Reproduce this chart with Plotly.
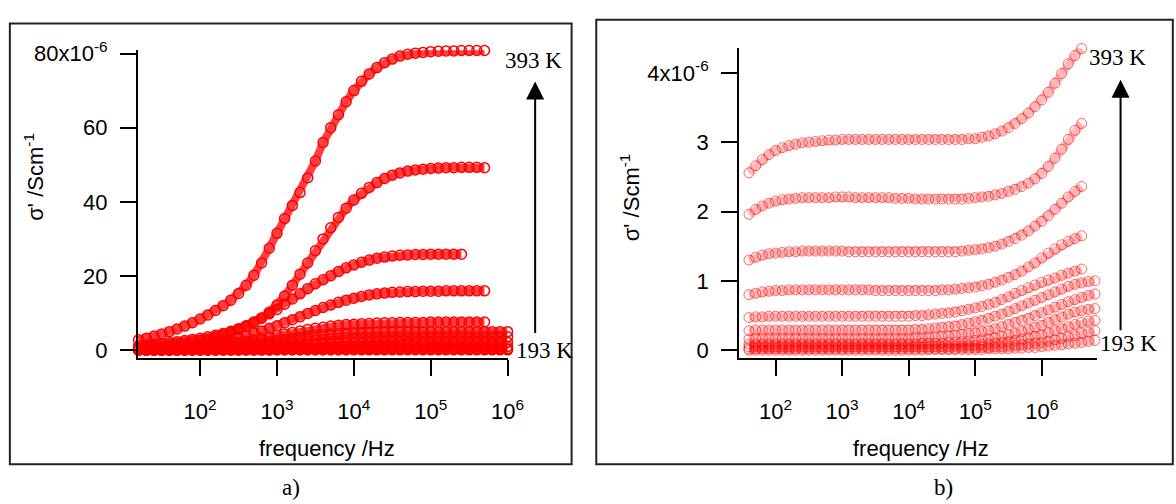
import plotly.graph_objects as go

# ---------------- data: panel a) (values in units of 1e-6 S/cm) ----------------
LOG_F_A = [1.2, 1.3, 1.4, 1.5, 1.6, 1.7, 1.8, 1.9, 2.0, 2.1,
           2.2, 2.3, 2.4, 2.5, 2.6, 2.7, 2.8, 2.9, 3.0, 3.1,
           3.2, 3.3, 3.4, 3.5, 3.6, 3.7, 3.8, 3.9, 4.0, 4.1,
           4.2, 4.3, 4.4, 4.5, 4.6, 4.7, 4.8, 4.9, 5.0, 5.1,
           5.2, 5.3, 5.4, 5.5, 5.6, 5.7, 5.8, 5.9, 6.0]

A_393 = [2.8, 3.2, 3.8, 4.4, 5.0, 5.7, 6.5, 7.4, 8.4, 9.5,
         10.7, 12.0, 13.5, 15.3, 17.5, 20.2, 23.5, 27.5, 31.5, 35.5,
         39.0, 42.5, 46.5, 51.0, 56.0, 60.0, 63.5, 67.0, 70.0, 72.5,
         74.5, 76.2, 77.5, 78.5, 79.3, 79.8, 80.1, 80.3, 80.5, 80.6,
         80.7, 80.7, 80.8, 80.8, 80.8, 80.8]
A_373 = [1.2, 1.4, 1.6, 1.8, 2.0, 2.3, 2.6, 2.9, 3.2, 3.6,
         4.0, 4.5, 5.1, 5.8, 6.6, 7.6, 8.7, 10.2, 12.2, 14.6,
         17.5, 20.5, 23.5, 26.8, 30.0, 33.0, 35.8, 38.3, 40.5, 42.3,
         43.9, 45.2, 46.3, 47.2, 47.8, 48.3, 48.6, 48.8, 49.0, 49.1,
         49.2, 49.2, 49.3, 49.3, 49.3, 49.2]
A_353 = [0.8, 0.9, 1.0, 1.2, 1.4, 1.6, 1.9, 2.2, 2.6, 3.0,
         3.5, 4.1, 4.8, 5.6, 6.5, 7.5, 8.6, 9.8, 11.0, 12.4,
         13.8, 15.2, 16.6, 17.9, 19.0, 20.1, 21.2, 22.2, 23.0, 23.7,
         24.3, 24.8, 25.1, 25.4, 25.6, 25.7, 25.8, 25.8, 25.9, 25.9,
         25.9, 25.9, 25.9]
A_333 = [0.5, 0.6, 0.7, 0.8, 0.9, 1.0, 1.2, 1.4, 1.6, 1.9,
         2.2, 2.6, 3.0, 3.5, 4.0, 4.6, 5.2, 5.9, 6.6, 7.4,
         8.2, 9.0, 9.9, 10.7, 11.5, 12.2, 12.9, 13.5, 14.0, 14.5,
         14.9, 15.2, 15.4, 15.6, 15.7, 15.8, 15.8, 15.9, 15.9, 15.9,
         16.0, 16.0, 16.0, 16.0, 16.0, 16.0]
A_313 = [0.3, 0.35, 0.4, 0.5, 0.6, 0.7, 0.8, 0.9, 1.0, 1.2,
         1.4, 1.6, 1.8, 2.1, 2.4, 2.8, 3.2, 3.6, 4.0, 4.4,
         4.8, 5.2, 5.6, 5.9, 6.2, 6.5, 6.7, 6.9, 7.0, 7.1,
         7.2, 7.3, 7.4, 7.4, 7.5, 7.5, 7.5, 7.5, 7.6, 7.6,
         7.6, 7.6, 7.6, 7.6, 7.6, 7.6]
A_293 = [0.2, 0.25, 0.3, 0.35, 0.4, 0.45, 0.5, 0.6, 0.7, 0.8,
         0.9, 1.0, 1.2, 1.4, 1.6, 1.8, 2.0, 2.3, 2.6, 2.9,
         3.2, 3.5, 3.8, 4.0, 4.2, 4.4, 4.5, 4.6, 4.7, 4.8,
         4.9, 4.9, 5.0, 5.0, 5.0, 5.0, 5.0, 5.0, 5.0, 5.0,
         5.0, 5.0, 5.0, 5.0, 5.0, 5.0, 5.0, 5.0, 5.0]
A_273 = [0.15, 0.18, 0.2, 0.22, 0.25, 0.28, 0.3, 0.35, 0.4, 0.45,
         0.5, 0.6, 0.7, 0.8, 0.9, 1.0, 1.2, 1.4, 1.6, 1.8,
         2.0, 2.2, 2.4, 2.6, 2.8, 3.0, 3.1, 3.2, 3.3, 3.4,
         3.4, 3.5, 3.5, 3.5, 3.6, 3.6, 3.6, 3.6, 3.6, 3.6,
         3.6, 3.6, 3.6, 3.6, 3.6, 3.6, 3.6, 3.6, 3.6]
A_253 = [0.1, 0.1, 0.12, 0.14, 0.16, 0.18, 0.2, 0.22, 0.25, 0.28,
         0.3, 0.35, 0.4, 0.45, 0.5, 0.6, 0.7, 0.8, 0.9, 1.0,
         1.1, 1.2, 1.3, 1.4, 1.5, 1.6, 1.7, 1.8, 1.85, 1.9,
         1.95, 2.0, 2.0, 2.05, 2.05, 2.1, 2.1, 2.1, 2.1, 2.1,
         2.1, 2.1, 2.1, 2.1, 2.1, 2.1, 2.1, 2.1, 2.1]
A_233 = [0.05, 0.05, 0.06, 0.07, 0.08, 0.09, 0.1, 0.11, 0.12, 0.14,
         0.15, 0.17, 0.2, 0.22, 0.25, 0.28, 0.32, 0.36, 0.4, 0.45,
         0.5, 0.55, 0.6, 0.65, 0.7, 0.75, 0.8, 0.85, 0.88, 0.9,
         0.92, 0.94, 0.96, 0.97, 0.98, 0.99, 1.0, 1.0, 1.0, 1.0,
         1.0, 1.0, 1.0, 1.0, 1.0, 1.0, 1.0, 1.0, 1.0]
A_213 = [0.02, 0.02, 0.02, 0.03, 0.03, 0.03, 0.04, 0.04, 0.05, 0.05,
         0.06, 0.07, 0.08, 0.09, 0.1, 0.11, 0.13, 0.15, 0.17, 0.19,
         0.21, 0.23, 0.25, 0.27, 0.29, 0.31, 0.33, 0.34, 0.35, 0.36,
         0.37, 0.38, 0.38, 0.39, 0.39, 0.4, 0.4, 0.4, 0.4, 0.4,
         0.4, 0.4, 0.4, 0.4, 0.4, 0.4, 0.4, 0.4, 0.4]
A_193 = [0.0, 0.0, 0.0, 0.0, 0.0, 0.01, 0.01, 0.01, 0.01, 0.01,
         0.01, 0.02, 0.02, 0.02, 0.02, 0.03, 0.03, 0.03, 0.04, 0.04,
         0.05, 0.05, 0.06, 0.06, 0.07, 0.07, 0.08, 0.08, 0.09, 0.09,
         0.09, 0.1, 0.1, 0.1, 0.1, 0.1, 0.1, 0.1, 0.1, 0.1,
         0.1, 0.1, 0.1, 0.1, 0.1, 0.1, 0.1, 0.1, 0.1]

SERIES_A = [A_393, A_373, A_353, A_333, A_313, A_293, A_273, A_253, A_233, A_213, A_193]

# ---------------- data: panel b) ----------------
LOG_F_B = [1.6, 1.7, 1.8, 1.9, 2.0, 2.1, 2.2, 2.3, 2.4, 2.5,
           2.6, 2.7, 2.8, 2.9, 3.0, 3.1, 3.2, 3.3, 3.4, 3.5,
           3.6, 3.7, 3.8, 3.9, 4.0, 4.1, 4.2, 4.3, 4.4, 4.5,
           4.6, 4.7, 4.8, 4.9, 5.0, 5.1, 5.2, 5.3, 5.4, 5.5,
           5.6, 5.7, 5.8, 5.9, 6.0, 6.1, 6.2, 6.3, 6.4, 6.5,
           6.6, 6.7, 6.8]

B_393 = [2.56, 2.66, 2.75, 2.82, 2.88, 2.92, 2.95, 2.97, 2.99, 3.00,
         3.01, 3.02, 3.03, 3.03, 3.04, 3.04, 3.04, 3.04, 3.04, 3.04,
         3.04, 3.04, 3.04, 3.04, 3.04, 3.04, 3.04, 3.04, 3.04, 3.04,
         3.04, 3.04, 3.04, 3.05, 3.05, 3.07, 3.09, 3.12, 3.16, 3.21,
         3.27, 3.34, 3.42, 3.51, 3.61, 3.72, 3.85, 3.99, 4.13, 4.25,
         4.35]
B_373 = [1.96, 2.03, 2.08, 2.12, 2.15, 2.17, 2.18, 2.19, 2.20, 2.20,
         2.20, 2.20, 2.20, 2.21, 2.21, 2.21, 2.20, 2.20, 2.20, 2.20,
         2.20, 2.20, 2.19, 2.19, 2.19, 2.18, 2.18, 2.18, 2.18, 2.18,
         2.18, 2.18, 2.18, 2.19, 2.20, 2.21, 2.22, 2.24, 2.26, 2.29,
         2.32, 2.36, 2.41, 2.47, 2.55, 2.65, 2.77, 2.90, 3.04, 3.17,
         3.27]
B_353 = [1.30, 1.34, 1.37, 1.39, 1.40, 1.41, 1.42, 1.42, 1.43, 1.43,
         1.43, 1.43, 1.43, 1.43, 1.43, 1.42, 1.42, 1.42, 1.42, 1.42,
         1.42, 1.42, 1.42, 1.42, 1.42, 1.42, 1.42, 1.42, 1.42, 1.42,
         1.42, 1.42, 1.43, 1.44, 1.45, 1.46, 1.48, 1.50, 1.53, 1.57,
         1.61, 1.66, 1.72, 1.79, 1.86, 1.94, 2.03, 2.12, 2.21, 2.29,
         2.36]
B_333 = [0.80, 0.82, 0.84, 0.85, 0.86, 0.86, 0.87, 0.87, 0.87, 0.87,
         0.87, 0.87, 0.87, 0.87, 0.87, 0.87, 0.87, 0.87, 0.87, 0.86,
         0.86, 0.86, 0.86, 0.86, 0.86, 0.86, 0.86, 0.86, 0.86, 0.87,
         0.87, 0.88, 0.89, 0.90, 0.91, 0.93, 0.95, 0.98, 1.01, 1.05,
         1.09, 1.14, 1.20, 1.26, 1.33, 1.40, 1.46, 1.52, 1.57, 1.61,
         1.65]
B_313 = [0.47, 0.48, 0.48, 0.49, 0.49, 0.49, 0.49, 0.49, 0.49, 0.49,
         0.49, 0.49, 0.49, 0.49, 0.49, 0.49, 0.49, 0.49, 0.49, 0.49,
         0.49, 0.49, 0.49, 0.49, 0.49, 0.50, 0.50, 0.51, 0.52, 0.53,
         0.54, 0.55, 0.57, 0.59, 0.61, 0.63, 0.66, 0.69, 0.73, 0.77,
         0.82, 0.86, 0.90, 0.94, 0.98, 1.01, 1.04, 1.08, 1.11, 1.14,
         1.17]
B_293 = [0.28, 0.29, 0.29, 0.29, 0.29, 0.29, 0.29, 0.29, 0.29, 0.29,
         0.29, 0.29, 0.29, 0.29, 0.29, 0.29, 0.29, 0.29, 0.29, 0.29,
         0.29, 0.29, 0.29, 0.29, 0.29, 0.30, 0.30, 0.31, 0.32, 0.33,
         0.34, 0.35, 0.37, 0.39, 0.41, 0.43, 0.46, 0.49, 0.52, 0.56,
         0.60, 0.64, 0.68, 0.72, 0.76, 0.80, 0.84, 0.88, 0.92, 0.95,
         0.97, 0.99, 1.00]
B_273 = [0.16, 0.17, 0.17, 0.17, 0.17, 0.17, 0.17, 0.17, 0.17, 0.17,
         0.17, 0.17, 0.17, 0.17, 0.17, 0.17, 0.17, 0.17, 0.17, 0.17,
         0.17, 0.17, 0.17, 0.17, 0.17, 0.18, 0.18, 0.19, 0.19, 0.20,
         0.21, 0.22, 0.23, 0.24, 0.25, 0.27, 0.29, 0.31, 0.34, 0.37,
         0.40, 0.43, 0.46, 0.50, 0.54, 0.58, 0.62, 0.66, 0.70, 0.73,
         0.76, 0.79, 0.81]
B_253 = [0.09, 0.09, 0.09, 0.09, 0.09, 0.09, 0.09, 0.09, 0.09, 0.09,
         0.09, 0.09, 0.09, 0.09, 0.09, 0.09, 0.09, 0.09, 0.09, 0.09,
         0.09, 0.09, 0.09, 0.09, 0.09, 0.09, 0.10, 0.10, 0.10, 0.10,
         0.11, 0.11, 0.12, 0.13, 0.14, 0.15, 0.16, 0.18, 0.20, 0.22,
         0.24, 0.27, 0.30, 0.33, 0.36, 0.40, 0.44, 0.48, 0.52, 0.55,
         0.57, 0.59, 0.60]
B_233 = [0.05, 0.05, 0.05, 0.05, 0.05, 0.05, 0.05, 0.05, 0.05, 0.05,
         0.05, 0.05, 0.05, 0.05, 0.05, 0.05, 0.05, 0.05, 0.05, 0.05,
         0.05, 0.05, 0.05, 0.05, 0.05, 0.05, 0.05, 0.05, 0.05, 0.05,
         0.05, 0.06, 0.06, 0.07, 0.07, 0.08, 0.09, 0.10, 0.11, 0.12,
         0.14, 0.16, 0.18, 0.20, 0.22, 0.25, 0.28, 0.31, 0.34, 0.37,
         0.40, 0.42, 0.43]
B_213 = [0.02, 0.02, 0.02, 0.02, 0.02, 0.02, 0.02, 0.02, 0.02, 0.02,
         0.02, 0.02, 0.02, 0.02, 0.02, 0.02, 0.02, 0.02, 0.02, 0.02,
         0.02, 0.02, 0.02, 0.02, 0.02, 0.02, 0.02, 0.02, 0.02, 0.02,
         0.02, 0.02, 0.03, 0.03, 0.03, 0.04, 0.04, 0.05, 0.05, 0.06,
         0.07, 0.08, 0.09, 0.10, 0.11, 0.13, 0.15, 0.17, 0.19, 0.21,
         0.24, 0.26, 0.28]
B_193 = [0.00, 0.00, 0.00, 0.00, 0.00, 0.00, 0.00, 0.00, 0.00, 0.00,
         0.00, 0.00, 0.00, 0.00, 0.00, 0.00, 0.00, 0.00, 0.00, 0.00,
         0.00, 0.00, 0.00, 0.00, 0.00, 0.00, 0.00, 0.01, 0.01, 0.01,
         0.01, 0.01, 0.01, 0.01, 0.01, 0.01, 0.02, 0.02, 0.02, 0.02,
         0.03, 0.03, 0.04, 0.04, 0.05, 0.06, 0.07, 0.08, 0.09, 0.10,
         0.11, 0.13, 0.14]

SERIES_B = [B_393, B_373, B_353, B_333, B_313, B_293, B_273, B_253, B_233, B_213, B_193]

X_TICKS = [1e2, 1e3, 1e4, 1e5, 1e6]
X_TICK_TEXT = ["10<sup>2</sup>", "10<sup>3</sup>", "10<sup>4</sup>", "10<sup>5</sup>", "10<sup>6</sup>"]
YA_TICKS = [0, 20, 40, 60, 80]
YA_TICK_TEXT = ["0", "20", "40", "60", "80x10<sup>-6</sup>"]
YB_TICKS = [0, 1, 2, 3, 4]
YB_TICK_TEXT = ["0", "1", "2", "3", "4x10<sup>-6</sup>"]

# ---------------- figure ----------------
W, H = 1176, 504
SANS = "Arial, 'Liberation Sans', sans-serif"
SERIF = "'Times New Roman', 'Liberation Serif', serif"


def px(x):
    return x / W


def py(y):
    return 1 - y / H


fig = go.Figure()

for vals in SERIES_A:
    f = [10 ** v for v in LOG_F_A[:len(vals)]]
    fig.add_trace(go.Scatter(x=f, y=vals, mode="lines", xaxis="x", yaxis="y",
                             line=dict(color="rgba(255,0,0,0.75)", width=8),
                             hoverinfo="skip", showlegend=False, cliponaxis=False))
    fig.add_trace(go.Scatter(x=f, y=vals, mode="markers", xaxis="x", yaxis="y",
                             marker=dict(symbol="circle-open", size=10, color="#ff0000",
                                         line=dict(width=1.5, color="#ff0000")),
                             showlegend=False, cliponaxis=False))

for vals in SERIES_B:
    f = [10 ** v for v in LOG_F_B[:len(vals)]]
    fig.add_trace(go.Scatter(x=f, y=vals, mode="lines", xaxis="x2", yaxis="y2",
                             line=dict(color="rgba(255,0,0,0.28)", width=8),
                             hoverinfo="skip", showlegend=False, cliponaxis=False))
    fig.add_trace(go.Scatter(x=f, y=vals, mode="markers", xaxis="x2", yaxis="y2",
                             marker=dict(symbol="circle-open", size=10, color="rgba(255,0,0,0.6)",
                                         line=dict(width=1, color="rgba(255,0,0,0.6)")),
                             showlegend=False, cliponaxis=False))

axis_common = dict(showline=True, linewidth=2, linecolor="black", ticks="outside",
                   ticklen=16, tickwidth=2, tickcolor="black", showgrid=False,
                   zeroline=False, tickfont=dict(family=SANS, size=22, color="black"))

fig.update_layout(
    width=W, height=H, margin=dict(l=0, r=0, t=0, b=0),
    paper_bgcolor="white", plot_bgcolor="white", showlegend=False,
    xaxis=dict(domain=[px(140), px(515)], type="log", range=[1.192, 6.0], anchor="y",
               tickmode="array", tickvals=X_TICKS, ticktext=X_TICK_TEXT,
               ticklabelstandoff=17, **axis_common),
    yaxis=dict(domain=[py(358), py(39.5)], range=[-2.085, 80.9], anchor="x",
               tickmode="array", tickvals=YA_TICKS, ticktext=YA_TICK_TEXT,
               ticklabelstandoff=8, **axis_common),
    xaxis2=dict(domain=[px(750), px(1113)], type="log", range=[1.452, 6.83], anchor="y2",
                tickmode="array", tickvals=X_TICKS, ticktext=X_TICK_TEXT,
                ticklabelstandoff=17, **axis_common),
    yaxis2=dict(domain=[py(358), py(37)], range=[-0.1115, 4.362], anchor="x2",
                tickmode="array", tickvals=YB_TICKS, ticktext=YB_TICK_TEXT,
                ticklabelstandoff=8, **axis_common),
)

# frames around panels
fig.add_shape(type="rect", xref="paper", yref="paper", x0=px(10), x1=px(580), y0=py(468), y1=py(12),
              line=dict(color="#222", width=2), fillcolor="rgba(0,0,0,0)", layer="below")
fig.add_shape(type="rect", xref="paper", yref="paper", x0=px(605), x1=px(1190), y0=py(468), y1=py(8),
              line=dict(color="#222", width=2), fillcolor="rgba(0,0,0,0)", layer="below")

ann = []


def txt(x, y, s, fam, size, angle=0):
    ann.append(dict(x=px(x), y=py(y), xref="paper", yref="paper", text=s, showarrow=False,
                    xanchor="center", yanchor="middle", textangle=angle,
                    font=dict(family=fam, size=size, color="black")))


txt(332, 452, "frequency /Hz", SANS, 22)
txt(935, 452, "frequency /Hz", SANS, 22)
txt(35, 170, "σ' /Scm<sup>-1</sup>", SANS, 22, -90)
txt(639, 192, "σ' /Scm<sup>-1</sup>", SANS, 22, -90)
txt(541, 50, "393 K", SERIF, 23)
txt(552, 350, "193 K", SERIF, 23)
txt(1134, 47, "393 K", SERIF, 23)
txt(1145, 343, "193 K", SERIF, 23)
txt(295, 492, "a)", SERIF, 23)
txt(957, 492, "b)", SERIF, 23)

for (xa, ytip, ybot) in [(543, 72, 325), (1137, 70, 322)]:
    ann.append(dict(x=px(xa), y=py(ytip), xref="paper", yref="paper", text="",
                    showarrow=True, arrowhead=2, arrowsize=1.8, arrowwidth=2,
                    arrowcolor="black", ax=0, ay=ybot - ytip, axref="pixel", ayref="pixel"))

fig.update_layout(annotations=ann)

fig.write_html("out.html")
